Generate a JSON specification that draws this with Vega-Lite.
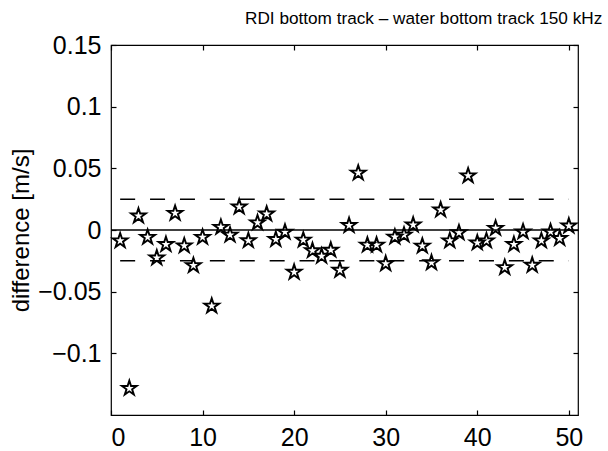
{
  "$schema": "https://vega.github.io/schema/vega-lite/v6.json",
  "width": 467,
  "height": 370,
  "autosize": "none",
  "padding": {"left": 111, "top": 45, "right": 30, "bottom": 36},
  "background": "white",
  "title": {
    "text": "RDI bottom track – water bottom track 150 kHz",
    "anchor": "start",
    "frame": "group",
    "dx": 134,
    "offset": 6,
    "font": "Liberation Sans",
    "fontSize": 17.2,
    "fontWeight": "normal",
    "color": "black"
  },
  "config": {
    "view": {"stroke": "black", "strokeWidth": 1.2},
    "font": "Liberation Sans",
    "axis": {
      "grid": false,
      "domain": false,
      "tickColor": "black",
      "tickSize": -5,
      "tickWidth": 1.2,
      "labelColor": "black",
      "labelFont": "Liberation Sans",
      "labelFontSize": 25,
      "labelPadding": 15,
      "titleColor": "black",
      "titleFont": "Liberation Sans",
      "titleFontSize": 24,
      "titleFontWeight": "normal",
      "titlePadding": 4
    }
  },
  "datasets": {
    "diff": [
      {"ensemble": 1, "difference": -0.0087},
      {"ensemble": 2, "difference": -0.1284},
      {"ensemble": 3, "difference": 0.0114},
      {"ensemble": 4, "difference": -0.0059},
      {"ensemble": 5, "difference": -0.0226},
      {"ensemble": 6, "difference": -0.0117},
      {"ensemble": 7, "difference": 0.0136},
      {"ensemble": 8, "difference": -0.0128},
      {"ensemble": 9, "difference": -0.0288},
      {"ensemble": 10, "difference": -0.0059},
      {"ensemble": 11, "difference": -0.0616},
      {"ensemble": 12, "difference": 0.0022},
      {"ensemble": 13, "difference": -0.0041},
      {"ensemble": 14, "difference": 0.0187},
      {"ensemble": 15, "difference": -0.0086},
      {"ensemble": 16, "difference": 0.0059},
      {"ensemble": 17, "difference": 0.0130},
      {"ensemble": 18, "difference": -0.0076},
      {"ensemble": 19, "difference": -0.0016},
      {"ensemble": 20, "difference": -0.0342},
      {"ensemble": 21, "difference": -0.0081},
      {"ensemble": 22, "difference": -0.0167},
      {"ensemble": 23, "difference": -0.0212},
      {"ensemble": 24, "difference": -0.0163},
      {"ensemble": 25, "difference": -0.0326},
      {"ensemble": 26, "difference": 0.0037},
      {"ensemble": 27, "difference": 0.0462},
      {"ensemble": 28, "difference": -0.0122},
      {"ensemble": 29, "difference": -0.0122},
      {"ensemble": 30, "difference": -0.0273},
      {"ensemble": 31, "difference": -0.0057},
      {"ensemble": 32, "difference": -0.0041},
      {"ensemble": 33, "difference": 0.0041},
      {"ensemble": 34, "difference": -0.0130},
      {"ensemble": 35, "difference": -0.0265},
      {"ensemble": 36, "difference": 0.0163},
      {"ensemble": 37, "difference": -0.0087},
      {"ensemble": 38, "difference": -0.0022},
      {"ensemble": 39, "difference": 0.0440},
      {"ensemble": 40, "difference": -0.0104},
      {"ensemble": 41, "difference": -0.0087},
      {"ensemble": 42, "difference": 0.0014},
      {"ensemble": 43, "difference": -0.0304},
      {"ensemble": 44, "difference": -0.0117},
      {"ensemble": 45, "difference": -0.0014},
      {"ensemble": 46, "difference": -0.0285},
      {"ensemble": 47, "difference": -0.0087},
      {"ensemble": 48, "difference": -0.0014},
      {"ensemble": 49, "difference": -0.0068},
      {"ensemble": 50, "difference": 0.0033}
    ],
    "zero": [{"start": 0, "end": 51, "level": 0}],
    "bounds": [
      {"start": 1, "end": 50, "level": 0.025},
      {"start": 1, "end": 50, "level": -0.025}
    ]
  },
  "layer": [
    {
      "data": {"name": "zero"},
      "mark": {"type": "rule", "color": "black", "strokeWidth": 1.5},
      "encoding": {
        "x": {
          "field": "start", "type": "quantitative",
          "scale": {"domain": [0, 51], "nice": false, "zero": false},
          "axis": {"orient": "top", "values": [0, 10, 20, 30, 40, 50], "labels": false, "title": null}
        },
        "x2": {"field": "end"},
        "y": {
          "field": "level", "type": "quantitative",
          "scale": {"domain": [-0.15, 0.15], "nice": false, "zero": false},
          "axis": {"orient": "right", "values": [-0.1, -0.05, 0, 0.05, 0.1, 0.15], "labels": false, "title": null}
        }
      }
    },
    {
      "data": {"name": "bounds"},
      "mark": {"type": "rule", "color": "black", "strokeWidth": 1.5, "strokeDash": [15, 14.9]},
      "encoding": {
        "x": {"field": "start", "type": "quantitative", "axis": null},
        "x2": {"field": "end"},
        "y": {"field": "level", "type": "quantitative", "axis": null}
      }
    },
    {
      "data": {"name": "diff"},
      "mark": {
        "type": "point",
        "shape": "M0,-1L0.2245,-0.309L0.9511,-0.309L0.3633,0.118L0.5878,0.809L0,0.382L-0.5878,0.809L-0.3633,0.118L-0.9511,-0.309L-0.2245,-0.309Z",
        "size": 240,
        "filled": false,
        "stroke": "black",
        "strokeWidth": 1.9,
        "opacity": 1
      },
      "encoding": {
        "x": {
          "field": "ensemble", "type": "quantitative",
          "axis": {"orient": "bottom", "values": [0, 10, 20, 30, 40, 50], "format": "d", "title": null}
        },
        "y": {
          "field": "difference", "type": "quantitative",
          "axis": {"orient": "left", "values": [-0.1, -0.05, 0, 0.05, 0.1, 0.15], "format": ".3~g", "title": "difference [m/s]"}
        }
      }
    }
  ],
  "resolve": {"axis": {"x": "independent", "y": "independent"}}
}
